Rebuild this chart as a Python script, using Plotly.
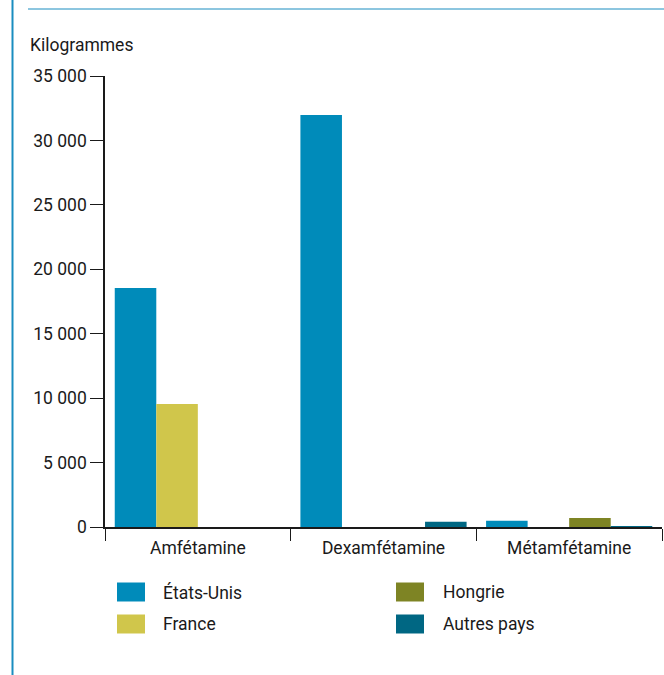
import plotly.graph_objects as go

categories = ["Amfétamine", "Dexamfétamine", "Métamfétamine"]
series_names = ["États-Unis", "France", "Hongrie", "Autres pays"]
values_us = [18550, 31980, 480]
values_france = [9550, 0, 0]
values_hongrie = [0, 0, 700]
values_autres = [0, 400, 30]
colors = ["#008BBA", "#D0C64B", "#7E8424", "#006783"]
y_ticks = [0, 5000, 10000, 15000, 20000, 25000, 30000, 35000]
y_tick_labels = ["0", "5 000", "10 000", "15 000", "20 000", "25 000", "30 000", "35 000"]

W, H = 664, 675
L, R, T, B = 105, 2, 76, 148
PW, PH = W - L - R, H - T - B

def px(x):
    return (x - L) / PW

def py(y):
    return (H - B - y) / PH

FONT = "Roboto, sans-serif"
FS = 17.5
TXT = "#1A1A1A"

fig = go.Figure()
all_vals = [values_us, values_france, values_hongrie, values_autres]
for name, vals, col in zip(series_names, all_vals, colors):
    fig.add_trace(go.Bar(x=categories, y=vals, name=name, marker=dict(color=col, line=dict(width=0)),
                         showlegend=False))

# manual legend
leg_pos = [(117, 161, 592), (117, 161, 624), (396, 441, 592), (396, 441, 624)]
for (sx, tx, cy), name, col in zip(leg_pos, series_names, colors):
    fig.add_shape(type="rect", xref="paper", yref="paper",
                  x0=px(sx), x1=px(sx + 28), y0=py(cy - 9.5), y1=py(cy + 9.5),
                  fillcolor=col, line=dict(width=0))
    fig.add_annotation(xref="paper", yref="paper", x=px(tx), y=py(cy), text=name,
                       showarrow=False, xanchor="left", yanchor="middle",
                       font=dict(family=FONT, size=FS, color=TXT))

# frame lines
fig.add_shape(type="line", xref="paper", yref="paper", x0=px(12.5), x1=px(12.5), y0=py(0), y1=py(675),
              line=dict(color="#1A8DC0", width=2))
fig.add_shape(type="line", xref="paper", yref="paper", x0=px(28), x1=px(664), y0=py(9), y1=py(9),
              line=dict(color="#1A8DC0", width=1))

fig.update_layout(
    width=W, height=H,
    margin=dict(l=L, r=R, t=T, b=B),
    plot_bgcolor="white", paper_bgcolor="white",
    barmode="group", bargap=0.105, bargroupgap=0,
    font=dict(family=FONT, size=FS, color=TXT),
    title=dict(text="Kilogrammes", x=30 / W, xanchor="left", xref="container",
               y=1 - 45 / H, yanchor="middle", yref="container",
               font=dict(family=FONT, size=FS, color=TXT)),
    xaxis=dict(showline=True, linecolor="#1A1A1A", linewidth=1.5, ticks="outside",
               tickson="boundaries", ticklen=12, tickcolor="#1A1A1A", tickwidth=1,
               ticklabelstandoff=4,
               showgrid=False, tickfont=dict(family=FONT, size=FS, color=TXT)),
    yaxis=dict(range=[0, 35000], showline=True, linecolor="#1A1A1A", linewidth=1.5,
               ticks="outside", ticklen=13, tickcolor="#1A1A1A", tickwidth=1,
               tickvals=y_ticks, ticktext=y_tick_labels, showgrid=False, zeroline=False,
               tickfont=dict(family=FONT, size=FS, color=TXT)),
)

fig.write_html("out.html", config={"displayModeBar": False},
               post_script="document.body.style.margin='0';document.body.style.padding='0';")
